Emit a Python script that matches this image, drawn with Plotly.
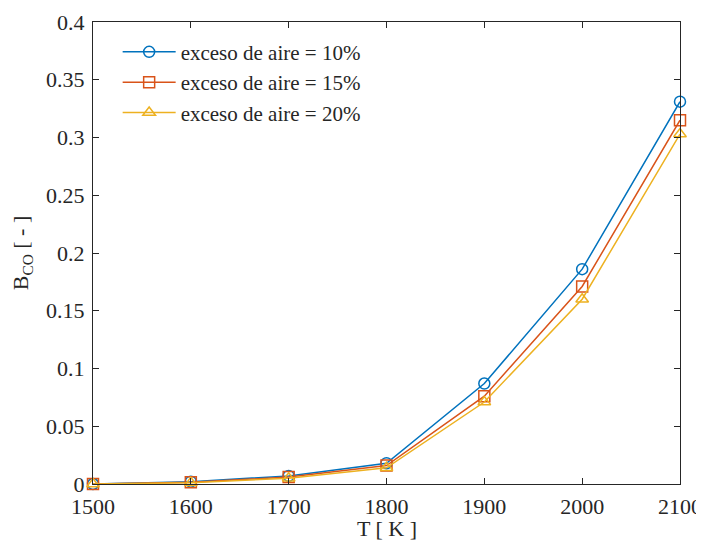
import plotly.graph_objects as go

T = [1500, 1600, 1700, 1800, 1900, 2000, 2100]
b_10 = [0.0, 0.002, 0.007, 0.018, 0.087, 0.186, 0.331]
b_15 = [0.0, 0.0015, 0.006, 0.016, 0.076, 0.171, 0.315]
b_20 = [0.0, 0.001, 0.005, 0.014, 0.071, 0.160, 0.303]
labels = ["exceso de aire = 10%", "exceso de aire = 15%", "exceso de aire = 20%"]
colors = ["#0072BD", "#D95319", "#EDB120"]
symbols = ["circle-open", "square-open", "triangle-up-open"]
x_title = "T [ K ]"
y_title = "B<sub>CO</sub> [ - ]"

fig = go.Figure()
for y, name, c, s in zip([b_10, b_15, b_20], labels, colors, symbols):
    fig.add_trace(go.Scatter(
        x=T, y=y, name=name, mode="lines+markers",
        line=dict(color=c, width=1.5),
        marker=dict(symbol=s, size=11, color=c, line=dict(width=1.5, color=c)),
        cliponaxis=False,
    ))

FONT = "Times New Roman, Liberation Serif, serif"
axis_common = dict(
    showgrid=False, zeroline=False, showline=True, linecolor="#262626", linewidth=1,
    mirror="ticks", ticks="inside", ticklen=6, tickcolor="#262626", automargin=False,
    ticklabelstandoff=3,
    tickfont=dict(family=FONT, size=22, color="#262626"),
)

fig.update_layout(
    width=696, height=532,
    margin=dict(l=85, r=24, t=14, b=56),
    paper_bgcolor="white", plot_bgcolor="white",
    font=dict(family=FONT, size=22, color="#262626"),
    xaxis=dict(range=[1500, 2100], dtick=100, **axis_common),
    yaxis=dict(range=[0, 0.4], dtick=0.05,
               title=dict(text=y_title, standoff=12, font=dict(family=FONT, size=22)), **axis_common),
    legend=dict(x=0.042, y=0.979, xanchor="left", yanchor="top",
                bgcolor="rgba(0,0,0,0)", borderwidth=0,
                font=dict(family=FONT, size=21), itemwidth=53, tracegroupgap=0),
    showlegend=True,
    annotations=[dict(text=x_title, xref="paper", yref="paper", x=0.5, y=0,
                      xanchor="center", yanchor="top", yshift=-30, showarrow=False,
                      font=dict(family=FONT, size=22, color="#262626"))],
)

fig.write_html("out.html")
